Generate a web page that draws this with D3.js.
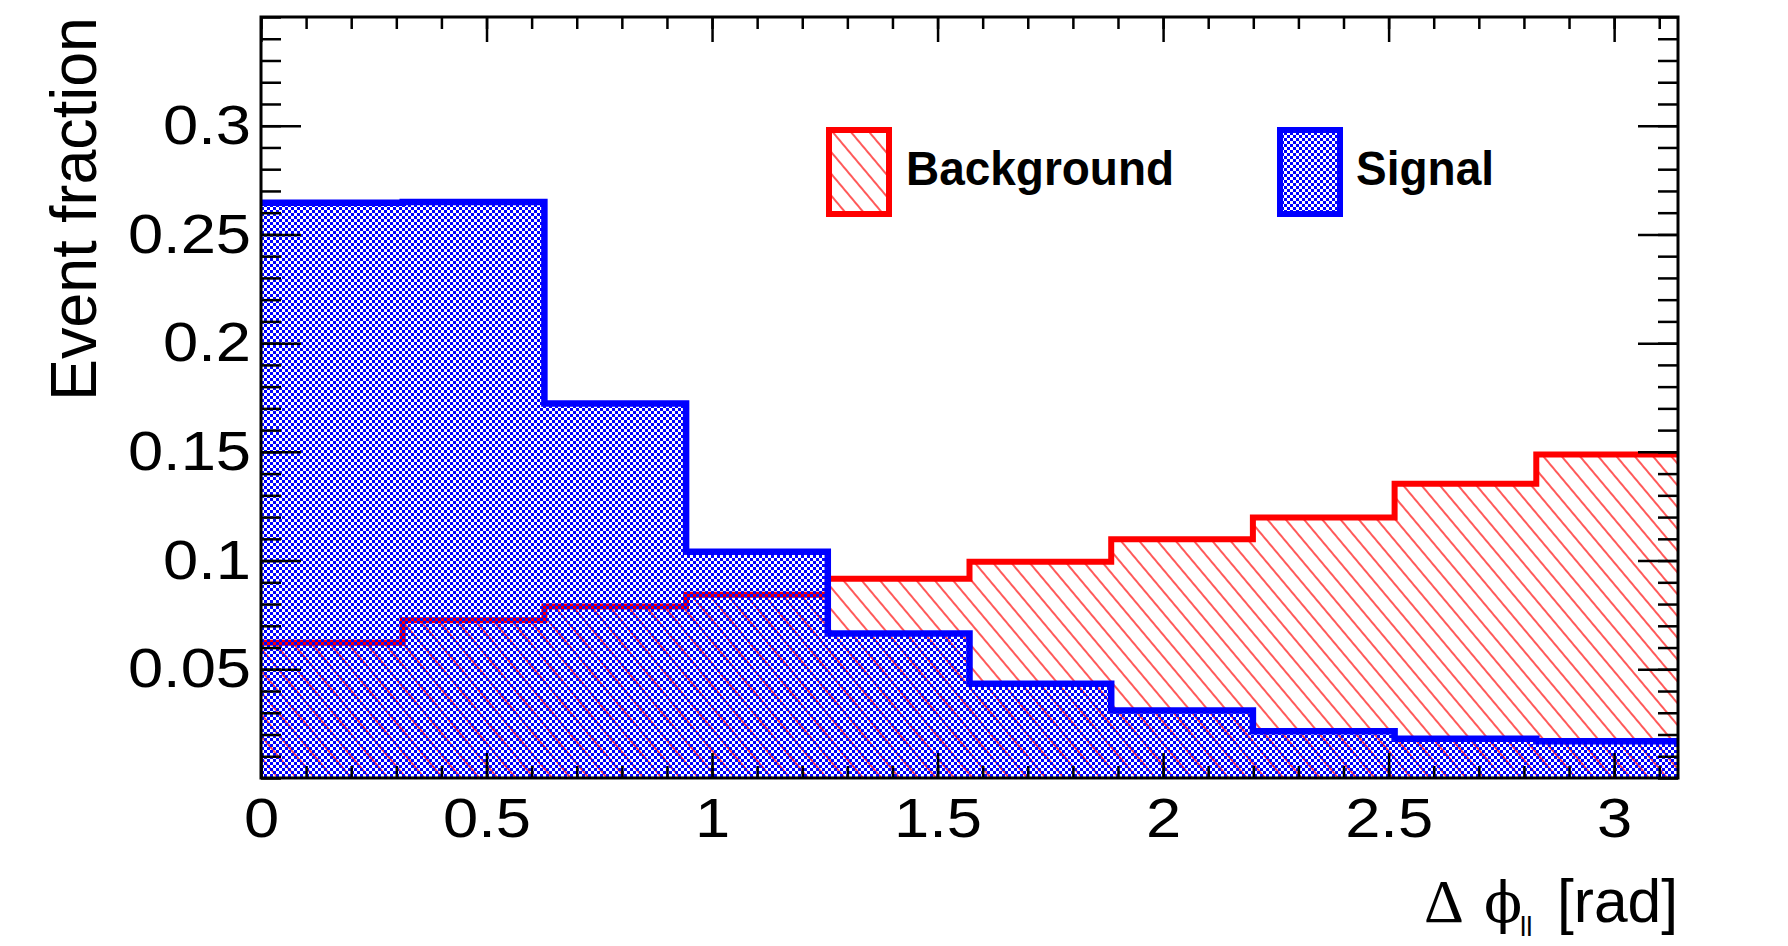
<!DOCTYPE html>
<html>
<head>
<meta charset="utf-8">
<script src="https://cdn.jsdelivr.net/npm/d3@7"></script>
<style>
body{margin:0;background:#fff;}
svg{display:block;}
</style>
</head>
<body>
<div id="graphs"></div>
<script>
// bin low edges (rad), 10 bins over [0, pi]
const binLow = [0, 0.3142, 0.6283, 0.9425, 1.2566, 1.5708, 1.8850, 2.1991, 2.5133, 2.8274];
const xMax = 3.1416;

const background = [0.0622, 0.0725, 0.0789, 0.0843, 0.0916, 0.0995, 0.1098, 0.1198, 0.1353, 0.1488];
const signal     = [0.2646, 0.2649, 0.1722, 0.1040, 0.0665, 0.0433, 0.0310, 0.0215, 0.0180, 0.0169];

const xTicks = [0, 0.5, 1, 1.5, 2, 2.5, 3];
const xTickLabels = ['0', '0.5', '1', '1.5', '2', '2.5', '3'];
const yTicks = [0.05, 0.1, 0.15, 0.2, 0.25, 0.3];
const yTickLabels = ['0.05', '0.1', '0.15', '0.2', '0.25', '0.3'];

const width = 1788;
const height = 946;
const margin = {top:17, bottom:168, left:261, right:110};
const font = '"Liberation Sans", Arial, Helvetica, sans-serif';

const svg = d3.select('#graphs')
.append('svg')
.attr('width', width)
.attr('height', height)
.attr('viewBox', [0, 0, width, height]);

const x = d3.scaleLinear()
.domain([0, xMax])
.range([margin.left, width - margin.right]);

const y = d3.scaleLinear()
.domain([0, 0.35])
.range([height - margin.bottom, margin.top]);

// fill patterns
const defs = svg.append('defs');

const hatch = defs.append('pattern')
.attr('id', 'hatch')
.attr('patternUnits', 'userSpaceOnUse')
.attr('width', 14).attr('height', 14)
.attr('patternTransform', 'rotate(-40)');
hatch.append('line')
.attr('x1', 7).attr('y1', -1).attr('x2', 7).attr('y2', 15)
.attr('stroke', '#ff0000').attr('stroke-width', 1.3);

const checker = defs.append('pattern')
.attr('id', 'checker')
.attr('patternUnits', 'userSpaceOnUse')
.attr('width', 6).attr('height', 6);
checker.append('rect').attr('x', 0).attr('y', 0).attr('width', 3).attr('height', 3).attr('fill', '#0000ff');
checker.append('rect').attr('x', 3).attr('y', 3).attr('width', 3).attr('height', 3).attr('fill', '#0000ff');

defs.append('clipPath').attr('id', 'plotclip')
.append('rect')
.attr('x', x(0)).attr('y', y(0.35))
.attr('width', x(xMax) - x(0)).attr('height', y(0) - y(0.35));

// step points: each bin start plus the upper edge of the last bin
function steps(vals){
    const pts = vals.map((v, i) => [binLow[i], v]);
    pts.push([xMax, vals[vals.length - 1]]);
    return pts;
}

const area = d3.area()
.curve(d3.curveStepAfter)
.x(d => x(d[0]))
.y0(y(0))
.y1(d => y(d[1]));

const line = d3.line()
.curve(d3.curveStepAfter)
.x(d => x(d[0]))
.y(d => y(d[1]));

const plot = svg.append('g').attr('clip-path', 'url(#plotclip)');

plot.append('path').attr('d', area(steps(background))).attr('fill', 'url(#hatch)');
plot.append('path').attr('d', line(steps(background)))
.attr('fill', 'none').attr('stroke', '#ff0000').attr('stroke-width', 6);

plot.append('path').attr('d', area(steps(signal))).attr('fill', 'url(#checker)');
plot.append('path').attr('d', line(steps(signal)))
.attr('fill', 'none').attr('stroke', '#0000ff').attr('stroke-width', 6.5);

// axes, ticks pointing inwards on all four sides
const xMinor = d3.range(0, 3.15, 0.1);
const yMinor = d3.range(0, 0.351, 0.01);

function tickStyle(g){
    g.select('.domain').remove();
    g.selectAll('line').attr('stroke', '#000').attr('stroke-width', 2.5);
}

svg.append('g')
.attr('transform', `translate(0, ${y(0)})`)
.call(d3.axisBottom(x).tickValues(xMinor).tickSize(-12).tickFormat(''))
.call(tickStyle);

svg.append('g')
.attr('transform', `translate(0, ${y(0)})`)
.call(d3.axisBottom(x).tickValues(xTicks).tickSize(-25).tickPadding(20)
    .tickFormat((d, i) => xTickLabels[i]))
.call(tickStyle)
.attr('class', 'xlab');

svg.append('g')
.attr('transform', `translate(0, ${y(0.35)})`)
.call(d3.axisTop(x).tickValues(xMinor).tickSize(-12).tickFormat(''))
.call(tickStyle);

svg.append('g')
.attr('transform', `translate(0, ${y(0.35)})`)
.call(d3.axisTop(x).tickValues(xTicks).tickSize(-25).tickFormat(''))
.call(tickStyle);

svg.append('g')
.attr('transform', `translate(${x(0)}, 0)`)
.call(d3.axisLeft(y).tickValues(yMinor).tickSize(-20).tickFormat(''))
.call(tickStyle);

svg.append('g')
.attr('transform', `translate(${x(0)}, 0)`)
.call(d3.axisLeft(y).tickValues(yTicks).tickSize(-40).tickPadding(10)
    .tickFormat((d, i) => yTickLabels[i]))
.call(tickStyle)
.attr('class', 'ylab');

svg.append('g')
.attr('transform', `translate(${x(xMax)}, 0)`)
.call(d3.axisRight(y).tickValues(yMinor).tickSize(-20).tickFormat(''))
.call(tickStyle);

svg.append('g')
.attr('transform', `translate(${x(xMax)}, 0)`)
.call(d3.axisRight(y).tickValues(yTicks).tickSize(-40).tickFormat(''))
.call(tickStyle);

svg.selectAll('.xlab text, .ylab text')
.attr('font-family', font)
.attr('font-size', 55)
.attr('fill', '#000')
.each(function(){
    const w = this.getComputedTextLength();
    d3.select(this).attr('textLength', w * 1.15).attr('lengthAdjust', 'spacingAndGlyphs');
});

// frame
svg.append('rect')
.attr('x', x(0)).attr('y', y(0.35))
.attr('width', x(xMax) - x(0)).attr('height', y(0) - y(0.35))
.attr('fill', 'none').attr('stroke', '#000').attr('stroke-width', 3);

// axis titles
svg.append('text')
.attr('transform', `translate(96, ${y(0.35)}) rotate(-90)`)
.attr('text-anchor', 'end')
.attr('font-family', font)
.attr('font-size', 64)
.attr('textLength', 384)
.attr('lengthAdjust', 'spacingAndGlyphs')
.text('Event fraction');

const xt = svg.append('g').attr('font-family', font);
const xr = x(xMax);
xt.append('text').attr('x', xr).attr('y', 922).attr('text-anchor', 'end')
.attr('font-size', 62).attr('textLength', 121).attr('lengthAdjust', 'spacingAndGlyphs')
.text('[rad]');
xt.append('text').attr('x', xr - 158).attr('y', 936)
.attr('font-size', 28).text('ll');
xt.append('text').attr('x', xr - 194).attr('y', 922)
.attr('font-family', '"DejaVu Serif", "Liberation Serif", serif')
.attr('font-size', 56).text('\u03D5');
xt.append('text').attr('x', xr - 254).attr('y', 922)
.attr('font-family', '"Liberation Serif", serif')
.attr('font-size', 62).text('\u0394');

// legend
const legend = [
    {name:'Background', fill:'url(#hatch)', color:'#ff0000', bx:829, tx:906, tw:268},
    {name:'Signal', fill:'url(#checker)', color:'#0000ff', bx:1280, tx:1356, tw:138}
];

const lg = svg.append('g').selectAll('g').data(legend).join('g');
lg.append('rect')
.attr('x', d => d.bx).attr('y', 130)
.attr('width', 60).attr('height', 84)
.attr('fill', d => d.fill)
.attr('stroke', d => d.color).attr('stroke-width', 6);
lg.append('text')
.attr('x', d => d.tx).attr('y', 185)
.attr('font-family', font).attr('font-weight', 'bold').attr('font-size', 48)
.attr('textLength', d => d.tw).attr('lengthAdjust', 'spacingAndGlyphs')
.text(d => d.name);

svg.node();
</script>
</body>
</html>
